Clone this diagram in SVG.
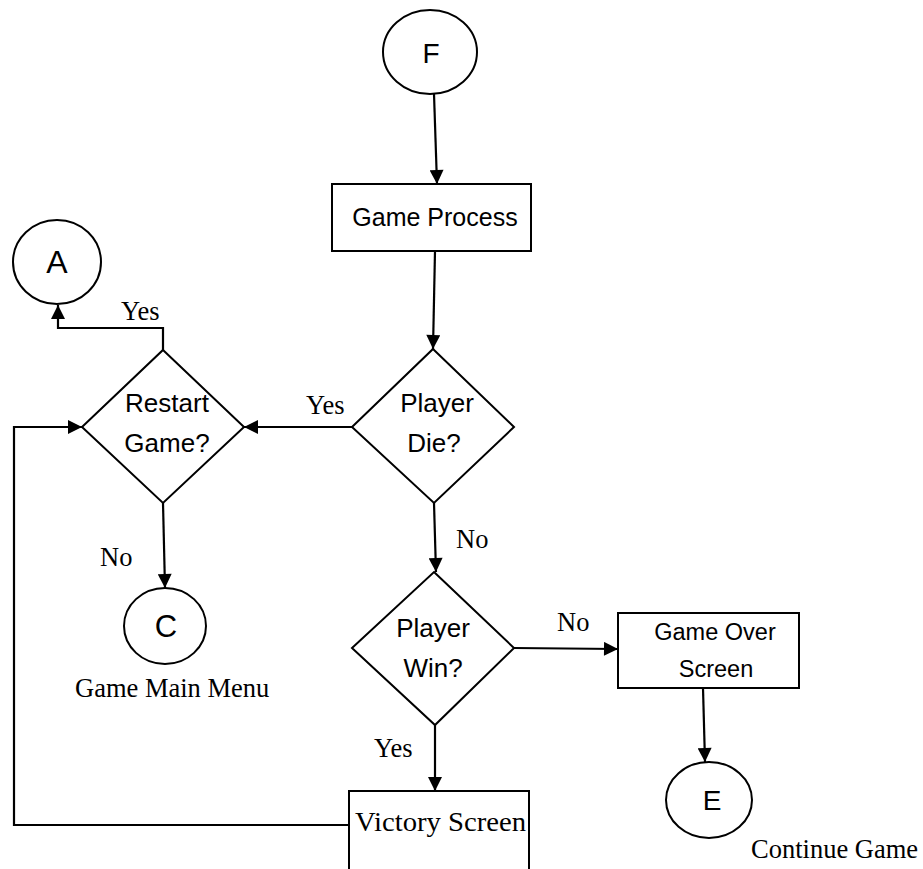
<svg xmlns="http://www.w3.org/2000/svg" width="923" height="869" viewBox="0 0 923 869">
<style>
.shape{fill:#fff;stroke:#000;stroke-width:2}
.conn{fill:none;stroke:#000;stroke-width:2.2}
.sans{font-family:"Liberation Sans",Arial,sans-serif;fill:#000;text-anchor:middle}
.serif{font-family:"Liberation Serif","Times New Roman",serif;fill:#000;font-size:26.5px}
</style>
<defs>
<marker id="arr" markerUnits="userSpaceOnUse" viewBox="0 0 10 10" markerWidth="16" markerHeight="14" refX="10" refY="5" orient="auto">
<path d="M0,0 L10,5 L0,10 z" fill="#000"/>
</marker>
</defs>
<rect width="923" height="869" fill="#fff"/>
<g id="connectors">
<path class="conn" d="M434,94 L437,184" marker-end="url(#arr)"/>
<path class="conn" d="M435,251 L433,349" marker-end="url(#arr)"/>
<path class="conn" d="M352,427 L244,427" marker-end="url(#arr)"/>
<path class="conn" d="M163,350 L163,328 L58,328 L58,305" marker-end="url(#arr)"/>
<path class="conn" d="M163,503 L165,588" marker-end="url(#arr)"/>
<path class="conn" d="M434,503 L436,572" marker-end="url(#arr)"/>
<path class="conn" d="M514,648 L618,649" marker-end="url(#arr)"/>
<path class="conn" d="M703,688 L705,762" marker-end="url(#arr)"/>
<path class="conn" d="M435,725 L435,791" marker-end="url(#arr)"/>
<path class="conn" d="M349,825 L14,825 L14,427 L82,427" marker-end="url(#arr)"/>
<text class="serif" x="121" y="320">Yes</text>
<text class="serif" x="306" y="414">Yes</text>
<text class="serif" x="100" y="566">No</text>
<text class="serif" x="456" y="548">No</text>
<text class="serif" x="557" y="631">No</text>
<text class="serif" x="374" y="757">Yes</text>
</g>
<g id="nodeF">
<ellipse class="shape" cx="430" cy="52" rx="47" ry="42"/>
<text class="sans" x="431" y="63" font-size="28">F</text>
</g>
<g id="gameProcess">
<rect class="shape" x="332" y="184" width="199" height="67"/>
<text class="sans" x="435" y="226" font-size="25">Game Process</text>
</g>
<g id="nodeA">
<ellipse class="shape" cx="57" cy="262" rx="44" ry="42"/>
<text class="sans" x="57" y="273" font-size="32">A</text>
</g>
<g id="restartGame">
<polygon class="shape" points="163,350 244,427 163,503 82,427"/>
<text class="sans" x="167" y="412" font-size="26">Restart</text>
<text class="sans" x="167" y="452" font-size="26">Game?</text>
</g>
<g id="playerDie">
<polygon class="shape" points="433,349 514,427 434,503 352,427"/>
<text class="sans" x="437" y="412" font-size="26">Player</text>
<text class="sans" x="434" y="452" font-size="26">Die?</text>
</g>
<g id="nodeC">
<ellipse class="shape" cx="165" cy="626" rx="41" ry="38"/>
<text class="sans" x="166" y="637" font-size="31">C</text>
<text class="serif" x="75" y="697" font-size="27.5">Game Main Menu</text>
</g>
<g id="playerWin">
<polygon class="shape" points="434,572 514,648 435,725 352,648"/>
<text class="sans" x="433" y="637" font-size="26">Player</text>
<text class="sans" x="433" y="677" font-size="26">Win?</text>
</g>
<g id="gameOver">
<rect class="shape" x="618" y="613" width="181" height="75"/>
<text class="sans" x="715" y="640" font-size="23.5">Game Over</text>
<text class="sans" x="716" y="677" font-size="23.5">Screen</text>
</g>
<g id="nodeE">
<ellipse class="shape" cx="709" cy="800" rx="43" ry="38"/>
<text class="sans" x="712" y="810" font-size="28">E</text>
<text class="serif" x="751" y="858" font-size="26.5">Continue Game</text>
</g>
<g id="victoryScreen">
<rect class="shape" x="349" y="791" width="180" height="100"/>
<text class="serif" x="355" y="831" font-size="31" textLength="171" lengthAdjust="spacingAndGlyphs">Victory Screen</text>
</g>
</svg>
